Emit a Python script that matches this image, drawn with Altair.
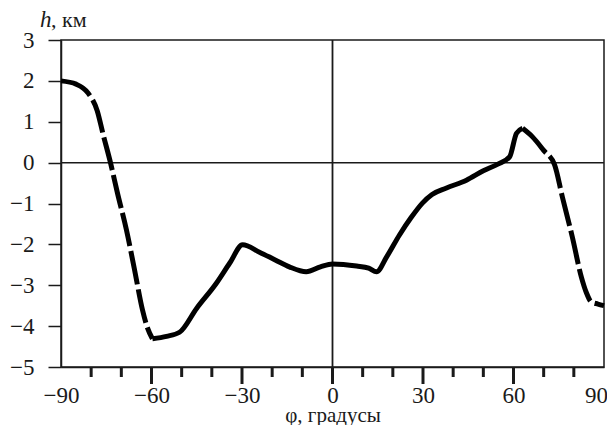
import altair as alt
import pandas as pd

# Profile data (phi in degrees, h in km)
seg_a_x = [-90, -85, -81, -78, -76, -73.6, -71.3, -68.3, -65.6, -63, -61.3, -59.7]
seg_a_y = [2.0, 1.92, 1.70, 1.27, 0.68, 0.0, -0.74, -1.65, -2.63, -3.6, -4.05, -4.31]

seg_b_x = [-59.7, -55, -50.7, -45, -38.5, -34, -29.8, -24.2, -19, -14.3, -8.7, -4, 0,
           8, 12, 14.6, 18, 22.2, 26, 29.8, 33, 37.8, 44.4, 50, 55, 58.7, 61, 63]
seg_b_y = [-4.31, -4.25, -4.15, -3.56, -2.95, -2.45, -2.01, -2.19, -2.38, -2.55, -2.67, -2.55, -2.48,
           -2.53, -2.58, -2.67, -2.3, -1.77, -1.35, -0.99, -0.78, -0.62, -0.43, -0.2, -0.03, 0.14, 0.72, 0.84]

seg_c_x = [63, 66.3, 70, 73.6, 76.2, 79.5, 82.5, 84.2, 85.8, 88, 90]
seg_c_y = [0.84, 0.63, 0.3, -0.05, -0.84, -1.82, -2.8, -3.19, -3.41, -3.46, -3.5]

x_labels = [-90, -60, -30, 0, 30, 60, 90]
y_ticks = [-5, -4, -3, -2, -1, 0, 1, 2, 3]
short_ticks = [-80, -70, -50, -40, -20, -10, 10, 20, 40, 50, 70, 80]
long_ticks = [-60, -30, 0, 30, 60]

FONT = "Liberation Serif"
INK = "#1a1a1a"

dashed = pd.DataFrame({
    "phi": seg_a_x + seg_c_x,
    "h": seg_a_y + seg_c_y,
    "seg": ["a"] * len(seg_a_x) + ["c"] * len(seg_c_x),
})
solid = pd.DataFrame({"phi": seg_b_x, "h": seg_b_y})

xs = alt.Scale(domain=[-90, 90], nice=False, zero=False)
ys = alt.Scale(domain=[-5, 3], nice=False, zero=False)

x_axis = alt.Axis(values=x_labels, ticks=False, tickSize=0, grid=False,
                  labelFlush=False, labelOverlap=False,
                  labelOffset=alt.ConditionalAxisNumber(
                      condition={"test": "datum.value == 90", "value": -8}, value=0),
                  labelPadding=17, labelFontSize=23, labelFont=FONT, labelColor=INK,
                  domainColor=INK, domainWidth=1.5,
                  title="φ, градусы", titleFont=FONT, titleFontSize=21,
                  titleFontWeight="normal", titleColor=INK,
                  titleX=271.5, titleY=54, titleBaseline="alphabetic")
y_axis = alt.Axis(values=y_ticks, tickSize=13, tickWidth=1.5, tickColor=INK,
                  grid=False, labelPadding=14, labelFontSize=23, labelFont=FONT,
                  labelFlush=False, labelOverlap=False,
                  labelColor=INK, domainColor=INK, domainWidth=1.5, title=None)

X = alt.X("phi:Q", scale=xs, axis=x_axis)
Y = alt.Y("h:Q", scale=ys, axis=y_axis)

solid_line = alt.Chart(solid).mark_line(
    color="black", strokeWidth=5, interpolate="monotone", strokeCap="butt"
).encode(x=X, y=Y)

dashed_line = alt.Chart(dashed).mark_line(
    color="black", strokeWidth=5, interpolate="monotone", strokeDash=[34, 5], strokeCap="butt"
).encode(x=X, y=Y, detail="seg:N")

zero_h = alt.Chart(pd.DataFrame({"h": [0]})).mark_rule(color=INK, strokeWidth=1.5).encode(y=Y)
zero_v = alt.Chart(pd.DataFrame({"phi": [0]})).mark_rule(color=INK, strokeWidth=1.8).encode(x=X)

short_df = pd.DataFrame({"phi": short_ticks})
long_df = pd.DataFrame({"phi": long_ticks})
short_rules = alt.Chart(short_df).mark_rule(color=INK, strokeWidth=3).encode(
    x=X, y=alt.value(327), y2=alt.value(337))
long_rules = alt.Chart(long_df).mark_rule(color=INK, strokeWidth=3).encode(
    x=X, y=alt.value(327), y2=alt.value(344))

title_h = alt.Chart(pd.DataFrame({"t": ["h"]})).mark_text(
    font=FONT, fontSize=23, fontStyle="italic", align="left", baseline="alphabetic", color=INK
).encode(text="t:N", x=alt.value(-21), y=alt.value(-13))
title_km = alt.Chart(pd.DataFrame({"t": [", км"]})).mark_text(
    font=FONT, fontSize=22, align="left", baseline="alphabetic", color=INK
).encode(text="t:N", x=alt.value(-10), y=alt.value(-13))

chart = alt.layer(
    zero_h, zero_v, short_rules, long_rules, solid_line, dashed_line, title_h, title_km
).properties(
    width=543, height=327,
    autosize=alt.AutoSizeParams(type="none"),
    padding={"left": 53, "top": 32, "right": 3, "bottom": 58},
).configure(background="white", font=FONT).configure_view(
    stroke=INK, strokeWidth=1.5
).configure_text(font=FONT).configure_axis(labelFont=FONT, titleFont=FONT)

chart.save("out.html", embed_options={"renderer": "svg", "actions": False})
